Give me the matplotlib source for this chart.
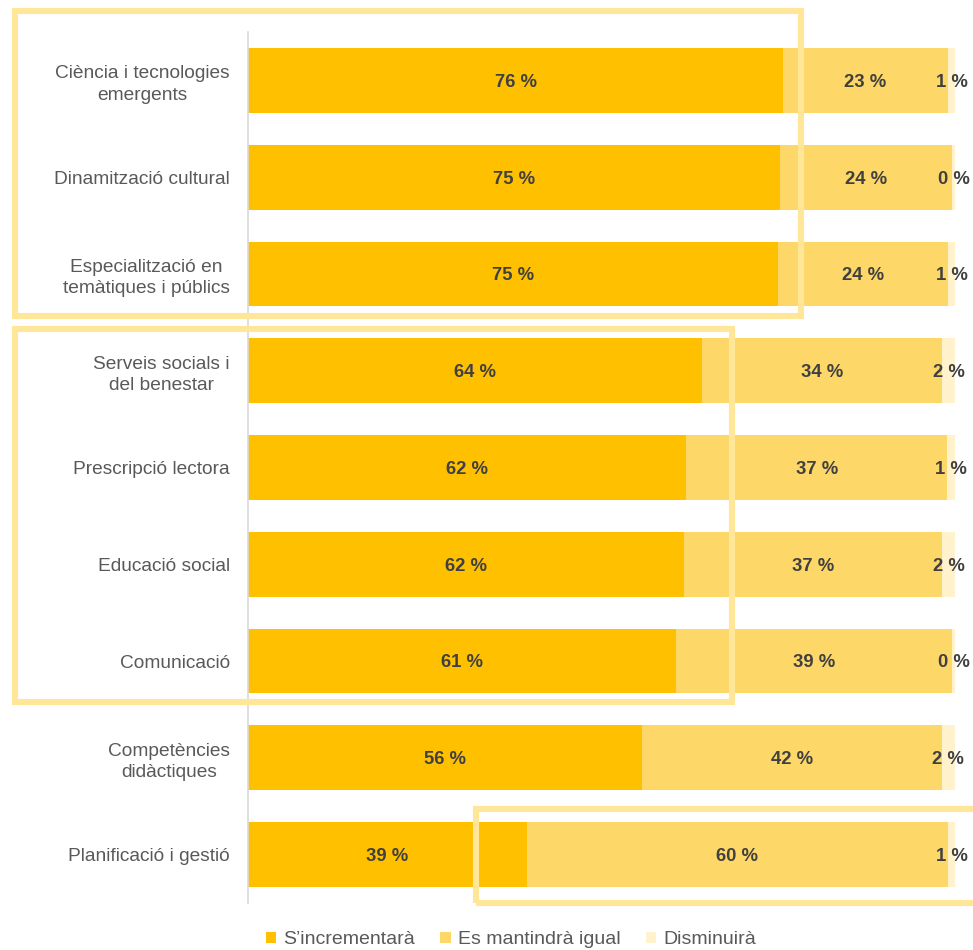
import matplotlib
matplotlib.use("Agg")
import matplotlib.pyplot as plt
from matplotlib.patches import Rectangle, Patch

plt.rcParams['font.family'] = ['Liberation Sans', 'DejaVu Sans']

categories = [
    "Ciència i tecnologies\nemergents",
    "Dinamització cultural",
    "Especialització en\ntemàtiques i públics",
    "Serveis socials i\ndel benestar",
    "Prescripció lectora",
    "Educació social",
    "Comunicació",
    "Competències\ndidàctiques",
    "Planificació i gestió",
]
increase = [75.7, 75.3, 75.0, 64.2, 62.0, 61.6, 60.6, 55.7, 39.4]
same = [23.3, 24.3, 24.0, 34.0, 36.9, 36.6, 39.0, 42.4, 59.6]
decrease = [1.0, 0.4, 1.0, 1.8, 1.1, 1.8, 0.4, 1.9, 1.0]
series_names = ["S’incrementarà", "Es mantindrà igual", "Disminuirà"]
colors = ["#FFC000", "#FDD767", "#FFF2CC"]

W, H = 973, 950
fig = plt.figure(figsize=(W / 100, H / 100), dpi=100)
ax = fig.add_axes([248 / W, 1 - 903 / H, 707 / W, 871 / H])

y = list(range(len(categories)))
left = [0] * len(categories)
series = [increase, same, decrease]
for vals, col in zip(series, colors):
    ax.barh(y, vals, left=left, height=0.67, color=col, edgecolor='none')
    for yi, l, v in zip(y, left, vals):
        ax.text(l + v / 2, yi + 0.02, f"{round(v)} %", ha='center', va='center',
                fontsize=13.3, fontweight='bold', color='#404040', clip_on=False)
    left = [a + b for a, b in zip(left, vals)]

ax.set_xlim(0, 100)
ax.set_ylim(len(categories) - 0.5, -0.5)
ax.set_yticks(y)
ax.set_yticklabels(categories, fontsize=13.8, color='#595959',
                   multialignment='center', linespacing=1.35)
ax.tick_params(axis='y', length=0, pad=13)
ax.set_xticks([])
for s in ['top', 'right', 'bottom']:
    ax.spines[s].set_visible(False)
ax.spines['left'].set_color('#D9D9D9')
ax.spines['left'].set_linewidth(1.2)

# highlight frames (figure pixel coords)
hl = '#FFE699'
frames = [(15, 11, 801, 316), (15, 329, 732, 702), (475.5, 809, 990, 902.5)]
for x0, y0, x1, y1 in frames:
    fig.patches.append(Rectangle((x0 / W, 1 - y1 / H), (x1 - x0) / W, (y1 - y0) / H,
                                 transform=fig.transFigure, fill=False,
                                 edgecolor=hl, linewidth=4.4, zorder=10))

handles = [Patch(facecolor=c, edgecolor='none') for c in colors]
fig.legend(handles, series_names, loc='center', bbox_to_anchor=(0.525, 1 - 940 / H),
           ncol=3, frameon=False, fontsize=14, handlelength=0.55, handleheight=0.55,
           handletextpad=0.35, columnspacing=1.3, labelcolor='#595959')

fig.savefig("out.png", dpi=100)
